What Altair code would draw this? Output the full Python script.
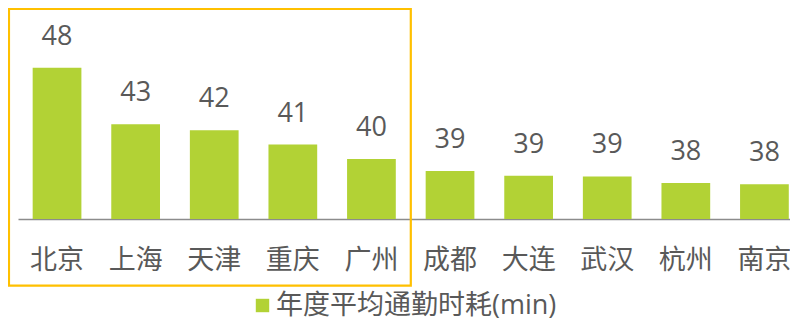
import altair as alt
import pandas as pd

cities = ["北京", "上海", "天津", "重庆", "广州", "成都", "大连", "武汉", "杭州", "南京"]
minutes = [47.6, 42.9, 42.4, 41.2, 40.0, 39.0, 38.6, 38.55, 38.0, 37.9]
series_name = "年度平均通勤时耗(min)"
highlight_start = "北京"
highlight_end = "广州"
axis_base = 35.0
axis_top = 52.5

FONT = "Open Sans, Noto Sans CJK SC"
TEXT_COLOR = "#595959"
BAR_COLOR = "#B2D235"
BOX_COLOR = "#FFC000"

df = pd.DataFrame({"city": cities, "minutes": minutes, "series": series_name})
box_df = pd.DataFrame({"start": [highlight_start], "end": [highlight_end],
                       "top": [axis_top], "bottom": [axis_base]})

x_scale = alt.Scale(domain=cities, paddingInner=0.38, paddingOuter=0.101,
                    align=0.924, round=False)
y_scale = alt.Scale(domain=[axis_base, axis_top], nice=False, zero=False)

base = alt.Chart(df)

bars = base.mark_bar().encode(
    x=alt.X("city:N", sort=None, scale=x_scale,
            axis=alt.Axis(title=None, ticks=False, tickSize=0, labelAngle=0,
                          labelFontSize=27, labelFont=FONT, labelColor=TEXT_COLOR,
                          labelPadding=28, labelBaseline="top",
                          domainColor="#8C8C8C", domainWidth=1.5)),
    y=alt.Y("minutes:Q", scale=y_scale, axis=None),
    y2=alt.datum(axis_base),
    color=alt.Color("series:N",
                    scale=alt.Scale(domain=[series_name], range=[BAR_COLOR]),
                    legend=alt.Legend(title=None, orient="none", legendX=231, legendY=283,
                                      symbolType="square", symbolSize=180,
                                      symbolStrokeWidth=0, labelFontSize=27,
                                      labelFont=FONT, labelColor=TEXT_COLOR,
                                      labelOffset=0, padding=0, labelLimit=600)),
)

labels = base.mark_text(baseline="alphabetic", dy=-23, fontSize=27, font=FONT,
                        color=TEXT_COLOR).encode(
    x=alt.X("city:N", sort=None, scale=x_scale),
    y=alt.Y("minutes:Q", scale=y_scale),
    text=alt.Text("minutes:Q", format=".0f"),
)

box = alt.Chart(box_df).mark_rect(fillOpacity=0, fill="white", stroke=BOX_COLOR,
                                  strokeWidth=2.2, xOffset=-23.7, x2Offset=15,
                                  y2Offset=66.7).encode(
    x=alt.X("start:N", scale=x_scale, bandPosition=0),
    x2=alt.X2("end:N", bandPosition=1),
    y=alt.Y("top:Q", scale=y_scale),
    y2=alt.Y2("bottom:Q"),
)

chart = alt.layer(bars, labels, box).properties(
    width=772, height=210,
    autosize=alt.AutoSizeParams(type="none"),
    padding={"left": 10, "top": 1, "right": 0, "bottom": 99},
).configure_view(stroke=None)

chart.save("out.html", embed_options={"renderer": "svg", "actions": False})
